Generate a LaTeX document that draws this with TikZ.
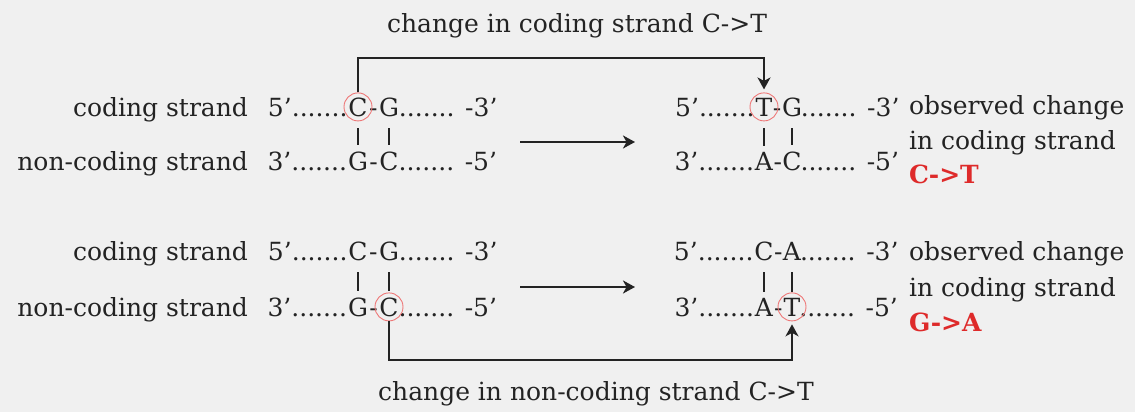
\documentclass[tikz,border=0pt]{standalone}
\usepackage{fontspec}
\setmainfont{DejaVu Serif}
\usetikzlibrary{arrows.meta,calc}
\definecolor{bg}{RGB}{240,240,240}
\definecolor{ink}{RGB}{35,35,35}
\definecolor{markred}{RGB}{238,120,120}
\definecolor{redtxt}{RGB}{222,42,42}
\tikzset{
  txt/.style={inner sep=0pt, outer sep=0pt, text=ink, font=\fontsize{25}{30}\selectfont},
  letter/.style={txt, anchor=base},
  ring/.style={circle, draw=markred, line width=0.9pt, minimum size=28pt, inner sep=0pt},
  pairbar/.style={draw=ink, line width=2pt},
  conn/.style={draw=ink, line width=2.2pt},
  tip/.style={-{Stealth[length=12pt,width=13pt,inset=3.5pt]}},
  result/.style={txt, anchor=base west, text=redtxt, font=\fontsize{25}{30}\selectfont\bfseries},
}
\begin{document}
\begin{tikzpicture}[x=1pt,y=-1pt]
\fill[bg] (0,0) rectangle (1135,412);
\useasboundingbox (0,0) rectangle (1135,412);

% ---------- top label ----------
\node[txt, anchor=base] (toplabel) at (577,33) {change in coding strand C->T};

% ---------- block 1, left ----------
\node[txt, anchor=base east] (lab1) at (248,116) {coding strand};
\node[letter] (c1) at (358,116) {C};
\node[letter] (g1) at (389,116) {G};
\node[letter] (h1) at ($(c1.base east)!0.5!(g1.base west)$) {-};
\node[txt, anchor=base east] (l1) at ([xshift=-1pt]c1.base west) {5’.......};
\node[txt, anchor=base west] (r1) at (g1.base east) {....... -3’};

\node[txt, anchor=base east] (lab2) at (248,170) {non-coding strand};
\node[letter] (g2) at (358,170) {G};
\node[letter] (c2) at (389,170) {C};
\node[letter] (h2) at ($(g2.base east)!0.5!(c2.base west)$) {-};
\node[txt, anchor=base east] (l2) at ([xshift=-1pt]g2.base west) {3’....... };
\node[txt, anchor=base west] (r2) at (c2.base east) {....... -5’};

\node[ring] (c1o) at (c1.center) {};
\draw[pairbar] ([yshift=-12pt]c1.base) -- ([yshift=6pt]g2.north);
\draw[pairbar] ([yshift=-12pt]g1.base) -- ([yshift=6pt]c2.north);

% ---------- block 1, right ----------
\node[letter] (t1) at (764,116) {T};
\node[letter] (gg1) at (792,116) {G};
\node[letter] (hh1) at ($(t1.base east)!0.5!(gg1.base west)$) {-};
\node[txt, anchor=base east] (ll1) at ([xshift=-1pt]t1.base west) {5’.......};
\node[txt, anchor=base west] (rr1) at ([xshift=-1pt]gg1.base east) {....... -3’};

\node[letter] (a2) at (764,170) {A};
\node[letter] (cc2) at (792,170) {C};
\node[letter] (hh2) at ($(a2.base east)!0.5!(cc2.base west)$) {-};
\node[txt, anchor=base east] (ll2) at ([xshift=-1pt]a2.base west) {3’....... };
\node[txt, anchor=base west] (rr2) at ([xshift=-1pt]cc2.base east) {....... -5’};

\node[ring] (t1o) at (t1.center) {};
\draw[pairbar] ([yshift=-12pt]t1.base) -- ([yshift=6pt]a2.north);
\draw[pairbar] ([yshift=-12pt]gg1.base) -- ([yshift=6pt]cc2.north);

\node[txt, anchor=base west] (obs1) at (909,114) {observed change};
\node[txt, anchor=base west] (obs1b) at (909,149) {in coding strand};
\node[result] (res1) at (909,183) {C->T};

% connectors block 1
\coordinate (topy) at (0,58);
\draw[conn, tip, shorten >=3pt] (c1o.north) -- (c1o.north |- topy) -| (t1o.north);
\coordinate (m1s) at (520,142);
\coordinate (m1e) at (635,142);
\draw[conn, tip] (m1s) -- (m1e);

% ---------- block 2, left ----------
\node[txt, anchor=base east] (lab3) at (248,260) {coding strand};
\node[letter] (c3) at (358,260) {C};
\node[letter] (g3) at (389,260) {G};
\node[letter] (h3) at ($(c3.base east)!0.5!(g3.base west)$) {-};
\node[txt, anchor=base east] (l3) at ([xshift=-1pt]c3.base west) {5’....... };
\node[txt, anchor=base west] (r3) at (g3.base east) {....... -3’};

\node[txt, anchor=base east] (lab4) at (248,316) {non-coding strand};
\node[letter] (g4) at (358,316) {G};
\node[letter] (c4) at (389,316) {C};
\node[letter] (h4) at ($(g4.base east)!0.5!(c4.base west)$) {-};
\node[txt, anchor=base east] (l4) at ([xshift=-1pt]g4.base west) {3’....... };
\node[txt, anchor=base west] (r4) at (c4.base east) {....... -5’};

\node[ring] (c4o) at (c4.center) {};
\draw[pairbar] ([yshift=-12pt]c3.base) -- ([yshift=6pt]g4.north);
\draw[pairbar] ([yshift=-12pt]g3.base) -- ([yshift=6pt]c4.north);

% ---------- block 2, right ----------
\node[letter] (cc3) at (764,260) {C};
\node[letter] (a3) at (792,260) {A};
\node[letter] (hh3) at ($(cc3.base east)!0.5!(a3.base west)$) {-};
\node[txt, anchor=base east] (ll3) at ([xshift=-1pt]cc3.base west) {5’....... };
\node[txt, anchor=base west] (rr3) at ([xshift=-1pt]a3.base east) {....... -3’};

\node[letter] (a4) at (764,316) {A};
\node[letter] (t4) at (792,316) {T};
\node[letter] (hh4) at ($(a4.base east)!0.5!(t4.base west)$) {-};
\node[txt, anchor=base east] (ll4) at ([xshift=-1pt]a4.base west) {3’....... };
\node[txt, anchor=base west] (rr4) at ([xshift=-1pt]t4.base east) {....... -5’};

\node[ring] (t4o) at (t4.center) {};
\draw[pairbar] ([yshift=-12pt]cc3.base) -- ([yshift=6pt]a4.north);
\draw[pairbar] ([yshift=-12pt]a3.base) -- ([yshift=6pt]t4.north);

\node[txt, anchor=base west] (obs2) at (909,260) {observed change};
\node[txt, anchor=base west] (obs2b) at (909,296) {in coding strand};
\node[result] (res2) at (909,331) {G->A};

% connectors block 2
\coordinate (boty) at (0,360);
\draw[conn, tip, shorten >=3pt] (c4o.south) -- (c4o.south |- boty) -| (t4o.south);
\coordinate (m2s) at (520,287);
\coordinate (m2e) at (635,287);
\draw[conn, tip] (m2s) -- (m2e);

% ---------- bottom label ----------
\node[txt, anchor=base] (botlabel) at (596,400) {change in non-coding strand C->T};
\end{tikzpicture}
\end{document}
